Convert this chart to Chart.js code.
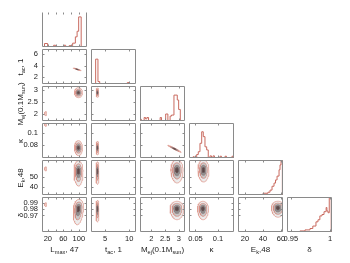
<!DOCTYPE html>
<html><head><meta charset="utf-8">
<script src="https://cdn.jsdelivr.net/npm/chart.js@4/dist/chart.umd.min.js"></script>
<style>
html,body{margin:0;padding:0;background:#fff}
body{width:350px;height:263px;overflow:hidden;position:relative;font-family:"Liberation Sans",Arial,sans-serif}
canvas{position:absolute}
.lab{position:absolute;font-size:8px;white-space:nowrap;color:#222;line-height:1}
.lab sub{font-size:70%;vertical-align:-0.3em;line-height:0}
.bot{transform:translate(-50%,-50%)}
.rot{transform:translate(-50%,-50%) rotate(-90deg)}
</style></head><body>
<script>
// ---------------- data ----------------
const varLabels = ['L<sub>max</sub>, 47','t<sub>ac</sub>, 1','M<sub>ej</sub>(0.1M<sub>sun</sub>)','\u03ba','E<sub>k</sub>,48','\u03b4'];
const xRanges = [[5,121],[2.1,11.4],[1.59,3.22],[0.0356,0.1356],[12.2,62.2],[0.945,1.0025]];
const yRanges = [[0,1],[0.89,6.79],[1.69,3.18],[0.0595,0.1156],[31.9,66.4],[0.9437,0.9994]];
const xTickMarks  = [[20,40,60,80,100],[5,10],[2,2.5,3],[0.05,0.1],[20,40,60],[0.95,1]];
const xTickLabels = [[20,60,100],[5,10],[2,2.5,3],[0.05,0.1],[20,40,60],[0.95,1]];
const yTickMarks  = [[],[2,4,6],[2,2.5,3],[0.08,0.1],[40,50],[0.97,0.98,0.99]];
const yTickLabels = [[],[2,4,6],[2,2.5,3],[0.08,0.1],[40,50],[0.97,0.98,0.99]];

// marginal histograms (bin edges, heights as fraction of panel)
const histEdgesL = [11.5,19.5,35,40,61.5,66,75,84,91,95.5,99.5,106];
const histHeightL = [0.1,0,0.05,0,0.05,0,0.04,0.11,0.29,0.45,0.86];
const histEdgesT = [3.06,3.54,3.9,9.6,10.0];
const histHeightT = [0.71,0.07,0,0.04];
const histEdgesM = [1.60,1.64,1.74,1.79,1.84,1.90,2.32,2.37,2.52,2.60,2.68,2.73,2.82,2.94,2.99,3.05];
const histHeightM = [0.05,0,0.1,0.06,0.1,0,0.1,0,0.2,0,0.14,0.17,0.74,0.6,0.33];
const histEdgesK = [0.0451,0.0473,0.0527,0.0562,0.0600,0.0638,0.0673,0.0711,0.0749,0.0784,0.0822,0.0856,0.0889,0.0922,0.1044,0.1078,0.1156,0.1189,0.1311,0.1344];
const histHeightK = [0.04,0,0.1,0.18,0.42,0.75,0.61,0.32,0.23,0,0.06,0,0.06,0,0.05,0,0.05,0,0.05];
const histEdgesE = [40,45.5,47.8,50,52.2,53.9,55.6,57.8,58.9,60,61.5];
const histHeightE = [0.05,0.08,0.14,0.25,0.34,0.43,0.54,0.72,0.86,0.99];
const histEdgesD = [0.9615,0.968,0.9744,0.978,0.982,0.9846,0.987,0.9897,0.9923,0.995,0.996,0.9974,0.999,1.0015];
const histHeightD = [0.03,0.06,0.1,0.17,0.29,0.35,0.46,0.5,0.58,0.7,0.6,0.55,0.97];
const histEdges = [histEdgesL,histEdgesT,histEdgesM,histEdgesK,histEdgesE,histEdgesD];
const histHeights = [histHeightL,histHeightT,histHeightM,histHeightK,histHeightE,histHeightD];

// 2-D credible region blobs (center, half widths in data units)
const blobRow  = [1,2,2,3,3,3,4,4,4,4,5,5,5,5,5, 2,3,4,5];
const blobCol  = [0,0,1,0,1,2,0,1,2,3,0,1,2,3,4, 0,0,0,0];
const blobCX   = [95.7,99.1,3.44,99.1,3.44,2.84,99.1,3.44,2.93,0.0678,99.1,3.44,2.93,0.0668,56.6, 14.5,14.5,14.5,14.5];
const blobCY   = [3.37,2.897,2.897,0.0759,0.0759,0.0743,55.7,55.7,56.7,56.7,0.9813,0.9813,0.9813,0.9813,0.9825, 2.004,0.1133,57.7,0.9873];
const blobRX   = [2.6,10.3,0.27,10.3,0.27,0.054,11.6,0.3,0.22,0.0122,13,0.3,0.25,0.0122,7.2, 2.6,2.6,2.6,2.6];
const blobRY   = [0.24,0.215,0.2,0.0114,0.0105,0.0057,10,9,10,10,0.0145,0.013,0.0113,0.0113,0.0102, 0.09,0.003,2,0.003];
const blobTail = [1,1,1,1.1,1.1,1,1.5,1.5,1.3,1.2,1.8,1.7,1.6,1.6,1.5, 1,1,1,1];
const blobSkew = [-3.85,0,0,0,0,-4.35,0,0,0,0,0.15,0,0,0,0, 0,0,0,0];
const blobLevels = [4,4,4,4,4,4,4,4,4,4,4,4,4,4,4, 1,1,1,1];

// ---------------- styling / layout ----------------
const FONT = '"Liberation Sans", Arial, sans-serif';
const colLeft = i => 42 + 49*i;
const rowTop = j => 12 + 37*j;
const PW = 45, PH = 35;
const levelScale = [1,0.7,0.45,0.22];
const levelFill = ['#ececec','#c8c8c8','#909090','#574a4a'];
const levelLine = ['#e0998e','#d48a80','#8f8080','#6a5050'];
const HIST_COLOR = '#c96a5f';
const FRAME = '#8a8a8a';

const framePlugin = {
  id:'frame',
  afterDatasetsDraw(chart){
    const o = chart.options.plugins.frame;
    const ctx = chart.ctx, a = chart.chartArea;
    const xs = chart.scales.x, ys = chart.scales.y;
    const L = Math.round(a.left)+0.5, R = Math.round(a.right)-0.5, T = Math.round(a.top)+0.5, B = Math.round(a.bottom)-0.5;
    ctx.save();
    ctx.strokeStyle = FRAME; ctx.lineWidth = 1;
    ctx.beginPath();
    if (o.top){ ctx.moveTo(L,T); ctx.lineTo(R,T); }
    ctx.moveTo(L,T); ctx.lineTo(L,B); ctx.lineTo(R,B); ctx.lineTo(R,T);
    o.xMarks.forEach(v=>{ const p=Math.round(xs.getPixelForValue(v))+0.5; ctx.moveTo(p,B); ctx.lineTo(p,B-2); ctx.moveTo(p,T); ctx.lineTo(p,T+2); });
    o.yMarks.forEach(v=>{ const p=Math.round(ys.getPixelForValue(v))+0.5; ctx.moveTo(L,p); ctx.lineTo(L+2,p); ctx.moveTo(R,p); ctx.lineTo(R-2,p); });
    ctx.stroke();
    // tick labels from the chart's own scales
    ctx.fillStyle = '#222';
    ctx.font = '7.5px ' + FONT;
    if (o.xLabels){
      ctx.textAlign = 'center'; ctx.textBaseline = 'top';
      o.xLabels.forEach(v=>ctx.fillText(String(v), xs.getPixelForValue(v), a.bottom + 3));
    }
    if (o.yLabels){
      ctx.textAlign = 'right'; ctx.textBaseline = 'middle';
      o.yLabels.forEach(v=>ctx.fillText(String(v), a.left - 4, ys.getPixelForValue(v)));
    }
    ctx.restore();
  }
};

function blobPoints(b, s){
  const N = 56, pts = [];
  for (let k=0;k<=N;k++){
    const th = 2*Math.PI*k/N, sn = Math.sin(th), cs = Math.cos(th);
    const ty = sn < 0 ? blobTail[b] : 1;
    const dy = blobRY[b]*s*sn*ty;
    const dx = blobRX[b]*s*cs + blobSkew[b]*blobRX[b]*s*sn*ty;
    pts.push({x: blobCX[b]+dx, y: blobCY[b]+dy});
  }
  return pts;
}

function makePanel(r,c){
  const diag = r===c;
  const padL = c===0 ? 30 : 3, padR = 3, padT = 3, padB = r===5 ? 17 : 3;
  const cv = document.createElement('canvas');
  cv.width = PW+padL+padR; cv.height = PH+padT+padB;
  cv.style.left = (colLeft(c)-padL)+'px'; cv.style.top = (rowTop(r)-padT)+'px';
  cv.style.width = cv.width+'px'; cv.style.height = cv.height+'px';
  document.body.appendChild(cv);

  const datasets = [];
  if (diag){
    const e = histEdges[c], h = histHeights[c];
    const pts = [{x:e[0],y:0}];
    h.forEach((v,k)=>pts.push({x:e[k],y:v}));
    pts.push({x:e[e.length-1],y:0});
    datasets.push({data:pts, stepped:true, borderColor:HIST_COLOR, borderWidth:1, pointRadius:0, fill:false, order:0});
  } else {
    blobRow.forEach((br,b)=>{
      if (br!==r || blobCol[b]!==c) return;
      for (let l=0;l<blobLevels[b];l++){
        const single = blobLevels[b]===1;
        datasets.push({data:blobPoints(b, levelScale[l]), borderColor:levelLine[l], borderWidth: 0.7,
          backgroundColor: single ? 'rgba(240,240,240,0.6)' : levelFill[l], fill:'shape', pointRadius:0, tension:0, order:10-l});
      }
    });
  }
  const showX = r===5, showY = c===0 && !diag;
  new Chart(cv, {
    type:'line',
    data:{datasets},
    plugins:[framePlugin],
    options:{
      responsive:false, animation:false, devicePixelRatio:1, events:[],
      layout:{padding:{left:padL, right:padR, top:padT, bottom:padB}},
      plugins:{legend:{display:false}, tooltip:{enabled:false},
        frame:{xMarks:xTickMarks[c], yMarks: diag?[]:yTickMarks[r], top: r!==0,
               xLabels: showX ? xTickLabels[c] : null, yLabels: showY ? yTickLabels[r] : null}},
      scales:{
        x:{type:'linear', min:xRanges[c][0], max:xRanges[c][1], display:false},
        y:{type:'linear', min: diag?0:yRanges[r][0], max: diag?1:yRanges[r][1], display:false}
      }
    }
  });
}

for (let r=0;r<6;r++) for (let c=0;c<=r;c++) makePanel(r,c);

// axis titles
varLabels.forEach((lab,i)=>{
  const d = document.createElement('div');
  d.className='lab bot'; d.innerHTML = lab;
  d.style.left = (colLeft(i)+PW/2)+'px'; d.style.top = '250px';
  document.body.appendChild(d);
  if (i>0){
    const e = document.createElement('div');
    e.className='lab rot'; e.innerHTML = lab;
    e.style.left = '21px'; e.style.top = (rowTop(i)+PH/2)+'px';
    document.body.appendChild(e);
  }
});
</script>
</body></html>
